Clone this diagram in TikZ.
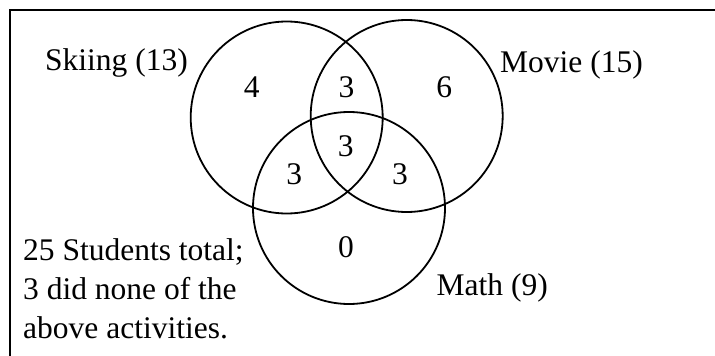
\documentclass[tikz,border=0pt]{standalone}
\usepackage{fontspec}
\setmainfont{Liberation Serif}
\begin{document}
\begin{tikzpicture}[x=1pt,y=-1pt,
  txt/.style={inner sep=0pt,font=\fontsize{31.5}{39}\selectfont},
  setc/.style={draw,line width=1.8pt,circle,minimum size=192pt,inner sep=0pt},
  frame/.style={line width=2pt}]
\useasboundingbox (0,0) rectangle (715,356);
% frame
\coordinate (fb) at (10,360);
\coordinate (ftl) at (10,9.5);
\coordinate (fr) at (720,9.5);
\draw[frame] (fb) -- (ftl) -- (fr);
% sets
\node[setc] (ski) at (286.7,117.5) {};
\node[setc] (mov) at (406.7,116) {};
\node[setc] (mat) at (349,208) {};
% labels
\node[txt,anchor=base west] (lski) at (45,70.5) {Skiing (13)};
\node[txt,anchor=base west] (lmov) at (500,72) {Movie (15)};
\node[txt,anchor=base west] (lmat) at (436.5,295) {Math (9)};
% counts
\node[txt] (n4) at (251.7,87.3) {4};
\node[txt] (n3a) at (346.5,87) {3};
\node[txt] (n6) at (444.3,87) {6};
\node[txt] (n3b) at (345.7,146.7) {3};
\node[txt] (n3c) at (294.3,174) {3};
\node[txt] (n3d) at (400,174) {3};
\node[txt] (n0) at (346,246.7) {0};
% note
\node[txt,anchor=base west] (t1) at (23,260) {25 Students total;};
\node[txt,anchor=base west] (t2) at (23,299) {3 did none of the};
\node[txt,anchor=base west] (t3) at (23,338.3) {above activities.};
\end{tikzpicture}
\end{document}
